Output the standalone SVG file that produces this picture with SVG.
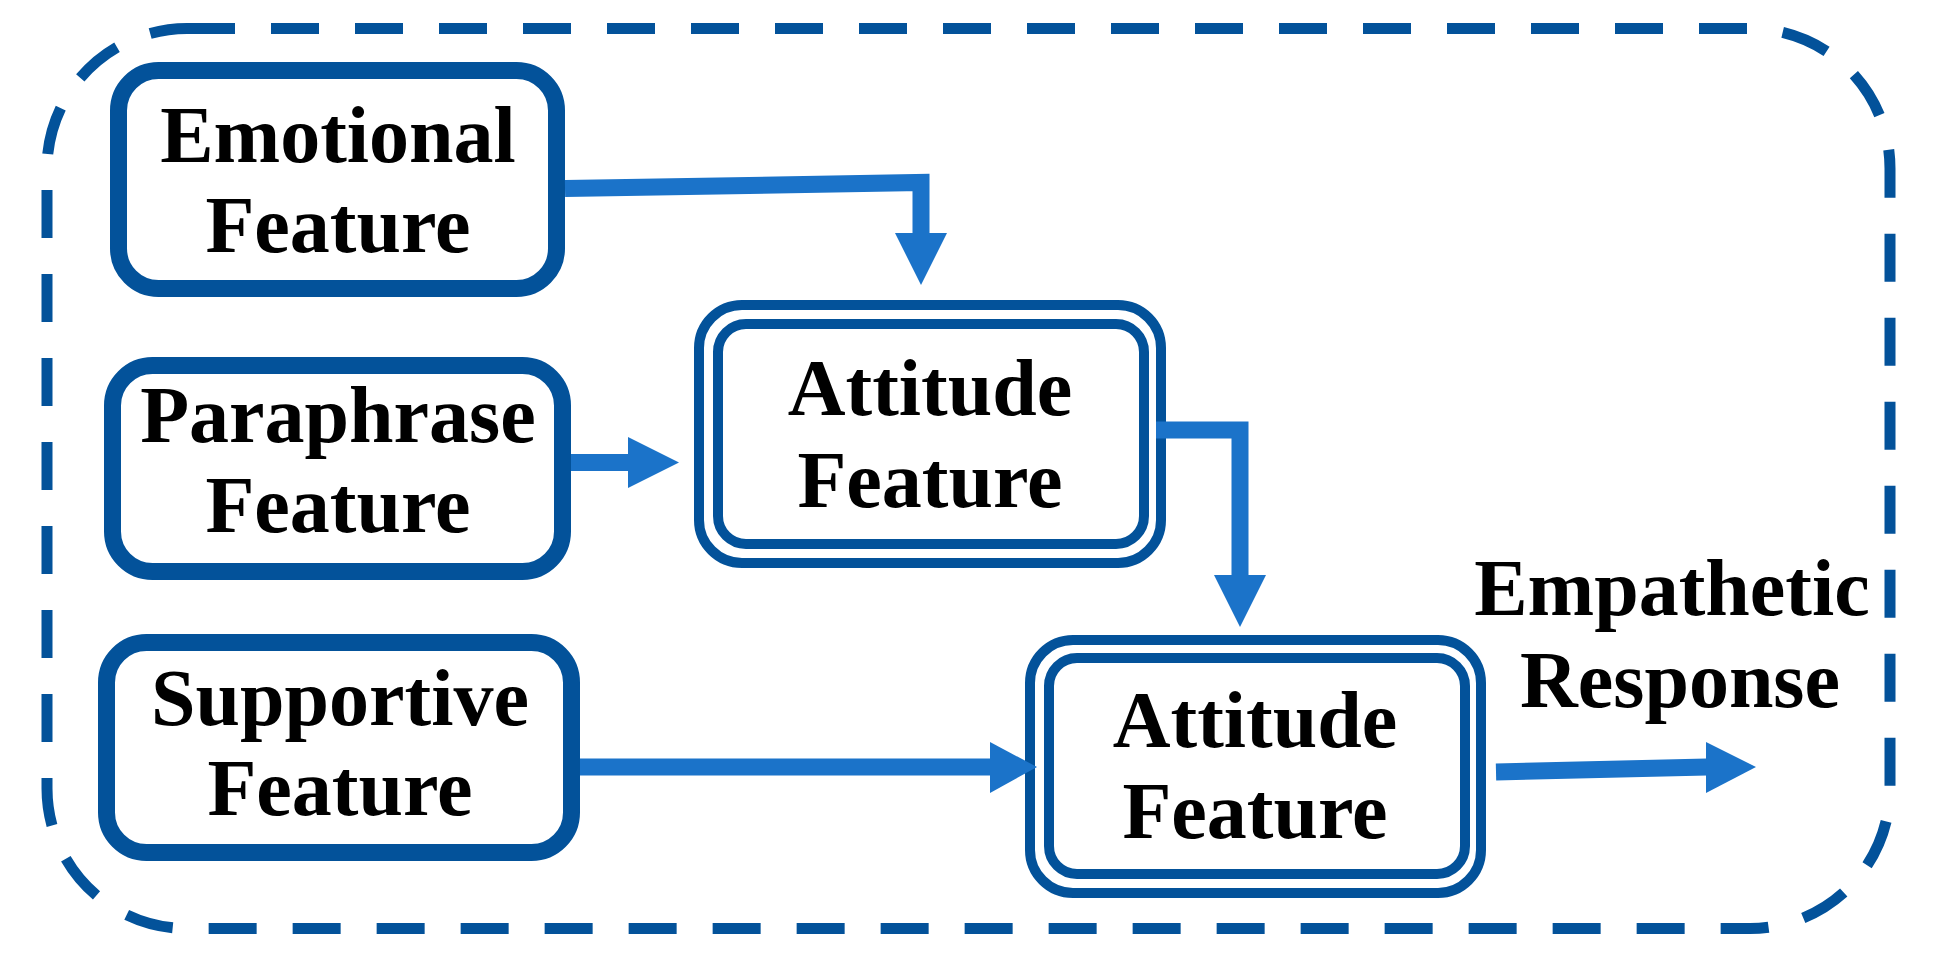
<svg xmlns="http://www.w3.org/2000/svg" width="1937" height="966" viewBox="0 0 1937 966">
  <defs>
    <style>
      .frame { fill: none; stroke: #03529A; stroke-width: 11; stroke-dasharray: 48 36; }
      .box { fill: #ffffff; stroke: #03529A; stroke-width: 17; }
      .dbl { fill: none; stroke: #03529A; stroke-width: 10; }
      .conn { fill: none; stroke: #1B73C9; stroke-width: 17; stroke-linejoin: miter; stroke-linecap: butt; }
      .head { fill: #1B73C9; stroke: none; }
      .lbl { font-family: "Liberation Serif", "Times New Roman", serif; font-weight: bold; font-size: 80px; fill: #000000; text-anchor: middle; }
    </style>
  </defs>
  <rect width="1937" height="966" fill="#ffffff"/>

  <g id="frame">
    <rect class="frame" x="47" y="28.5" width="1843" height="900" rx="140" ry="140"/>
  </g>

  <g id="emotional">
    <rect class="box" x="118.5" y="70.5" width="438" height="218" rx="40" ry="40"/>
    <text class="lbl" x="338" y="162">Emotional</text>
    <text class="lbl" x="338" y="252">Feature</text>
  </g>

  <g id="paraphrase">
    <rect class="box" x="112.5" y="365.5" width="450" height="206" rx="40" ry="40"/>
    <text class="lbl" x="338" y="442">Paraphrase</text>
    <text class="lbl" x="338" y="532">Feature</text>
  </g>

  <g id="supportive">
    <rect class="box" x="106.5" y="642.5" width="465" height="210" rx="40" ry="40"/>
    <text class="lbl" x="340" y="725">Supportive</text>
    <text class="lbl" x="340" y="815">Feature</text>
  </g>

  <g id="attitude1">
    <rect class="dbl" x="699" y="305" width="462" height="258" rx="43" ry="43" fill="#ffffff"/>
    <rect class="dbl" x="718" y="324" width="426" height="220" rx="28" ry="28"/>
    <text class="lbl" x="930" y="415">Attitude</text>
    <text class="lbl" x="930" y="507">Feature</text>
  </g>

  <g id="attitude2">
    <rect class="dbl" x="1030" y="640" width="451" height="253" rx="43" ry="43" fill="#ffffff"/>
    <rect class="dbl" x="1049" y="658" width="416" height="216" rx="28" ry="28"/>
    <text class="lbl" x="1255" y="747">Attitude</text>
    <text class="lbl" x="1255" y="838">Feature</text>
  </g>

  <g id="empathetic">
    <text class="lbl" x="1672" y="615">Empathetic</text>
    <text class="lbl" x="1680" y="707">Response</text>
  </g>

  <g id="connectors">
    <path class="conn" d="M565,188.5 L921,182.5 L921,234"/>
    <polygon class="head" points="895,233 947,233 921,285"/>

    <path class="conn" d="M571,462.5 L629,462.5"/>
    <polygon class="head" points="628,437 628,488 679,462.5"/>

    <path class="conn" d="M1156,430 L1240,430 L1240,576"/>
    <polygon class="head" points="1214,575 1266,575 1240,627"/>

    <path class="conn" d="M580,767 L991,767"/>
    <polygon class="head" points="990,742 990,793 1037,767"/>

    <path class="conn" d="M1496,772 L1707,767"/>
    <polygon class="head" points="1706,742 1706,793 1756,767"/>
  </g>
</svg>
